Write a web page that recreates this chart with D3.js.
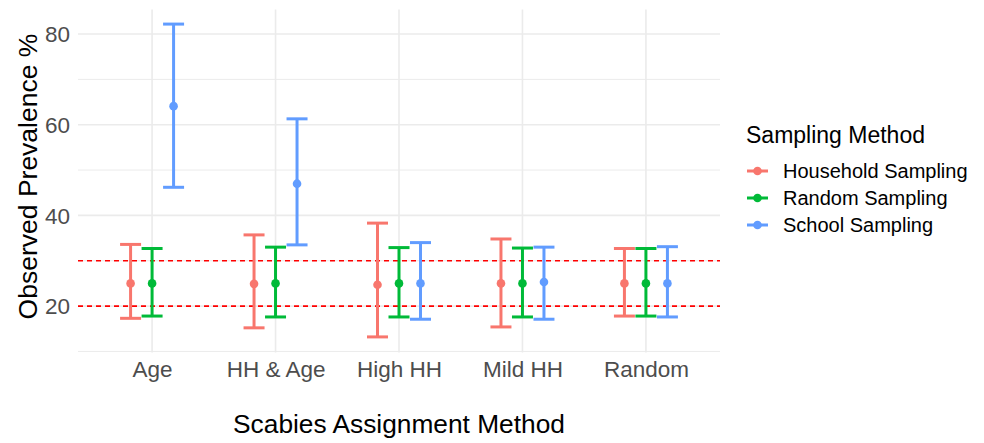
<!DOCTYPE html>
<html><head><meta charset="utf-8">
<script src="https://cdn.jsdelivr.net/npm/d3@7"></script>
<style>body{margin:0;background:#fff}svg{display:block}text{font-family:"Liberation Sans",Arial,sans-serif}</style>
</head><body>
<script>
const categories = ["Age","HH & Age","High HH","Mild HH","Random"];
const seriesNames = ["Household Sampling","Random Sampling","School Sampling"];
const colors = ["#F8766D","#00BA38","#619CFF"];
// values per series, in the order of categories
const means = {
  "Household Sampling":[25.0,24.9,24.7,25.0,25.0],
  "Random Sampling":[25.0,25.0,25.0,25.0,25.0],
  "School Sampling":[64.1,47.0,25.0,25.3,25.0]
};
const lowers = {
  "Household Sampling":[17.3,15.2,13.2,15.4,17.8],
  "Random Sampling":[17.8,17.6,17.6,17.6,17.8],
  "School Sampling":[46.2,33.5,17.1,17.1,17.6]
};
const uppers = {
  "Household Sampling":[33.6,35.7,38.3,34.8,32.7],
  "Random Sampling":[32.7,33.0,32.9,32.8,32.7],
  "School Sampling":[82.2,61.3,34.0,33.0,33.1]
};
const refLines = [20,30];
const yTicks = [20,40,60,80];
const yMinor = [10,30,50,70];

const W=984,H=443;
const P={l:78,r:720,t:9.4,b:352.5};
const svg=d3.select("body").append("svg").attr("width",W).attr("height",H);

// ggplot-like discrete scale: 0.6 units expansion each side
const x=d3.scalePoint().domain(categories).range([P.l,P.r]).padding(0.6);
const y=d3.scaleLinear().domain([9.76,85.44]).range([P.b,P.t]);

const g=svg.append("g");
yMinor.forEach(v=>g.append("line").attr("x1",P.l).attr("x2",P.r).attr("y1",y(v)).attr("y2",y(v)).attr("stroke","#EBEBEB").attr("stroke-width",1));
yTicks.forEach(v=>g.append("line").attr("x1",P.l).attr("x2",P.r).attr("y1",y(v)).attr("y2",y(v)).attr("stroke","#EBEBEB").attr("stroke-width",1.6));
categories.forEach(c=>g.append("line").attr("x1",x(c)).attr("x2",x(c)).attr("y1",P.t).attr("y2",P.b).attr("stroke","#EBEBEB").attr("stroke-width",1.6));

const ya=svg.append("g").attr("transform",`translate(${P.l},0)`).call(d3.axisLeft(y).tickValues(yTicks).tickSize(0).tickPadding(8));
ya.select(".domain").remove();
ya.selectAll("text").attr("fill","#4D4D4D").style("font-size","22.5px").attr("dy","0.35em");

const xa=svg.append("g").attr("transform",`translate(0,${P.b})`).call(d3.axisBottom(x).tickSize(0).tickPadding(8));
xa.select(".domain").remove();
xa.selectAll("text").attr("fill","#4D4D4D").style("font-size","22.5px").attr("dy","0.75em");

refLines.forEach(v=>g.append("line").attr("x1",P.l).attr("x2",P.r).attr("y1",y(v)).attr("y2",y(v)).attr("stroke","#FF0000").attr("stroke-width",1.6).attr("stroke-dasharray","5,4"));

const dodge=21.5, cap=10.5;
seriesNames.forEach((s,si)=>{
  const off=(si-1)*dodge;
  categories.forEach((c,ci)=>{
    const cx=x(c)+off;
    const gg=svg.append("g").attr("stroke",colors[si]).attr("stroke-width",3);
    gg.append("line").attr("x1",cx).attr("x2",cx).attr("y1",y(lowers[s][ci])).attr("y2",y(uppers[s][ci]));
    gg.append("line").attr("x1",cx-cap).attr("x2",cx+cap).attr("y1",y(lowers[s][ci])).attr("y2",y(lowers[s][ci]));
    gg.append("line").attr("x1",cx-cap).attr("x2",cx+cap).attr("y1",y(uppers[s][ci])).attr("y2",y(uppers[s][ci]));
    svg.append("circle").attr("cx",cx).attr("cy",y(means[s][ci])).attr("r",4.3).attr("fill",colors[si]);
  });
});

svg.append("text").attr("x",(P.l+P.r)/2).attr("y",433).attr("text-anchor","middle").style("font-size","26.3px").attr("fill","#000").text("Scabies Assignment Method");
svg.append("text").attr("transform",`translate(37,176.5) rotate(-90)`).attr("text-anchor","middle").style("font-size","26.5px").attr("fill","#000").text("Observed Prevalence %");

const lg=svg.append("g");
lg.append("text").attr("x",746).attr("y",143).style("font-size","23px").text("Sampling Method");
seriesNames.forEach((s,i)=>{
  const yy=171+i*27;
  lg.append("line").attr("x1",747).attr("x2",768).attr("y1",yy).attr("y2",yy).attr("stroke",colors[i]).attr("stroke-width",3);
  lg.append("circle").attr("cx",757.5).attr("cy",yy).attr("r",4.3).attr("fill",colors[i]);
  lg.append("text").attr("x",783).attr("y",yy).attr("dy","0.35em").style("font-size","20px").text(s);
});
</script>
</body></html>
